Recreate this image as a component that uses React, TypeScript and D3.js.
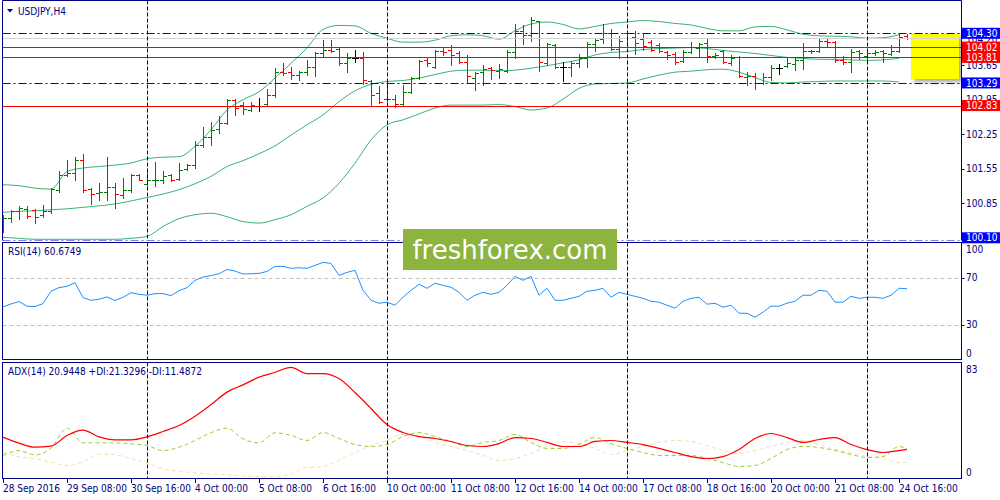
import React from "react";
import * as d3 from "d3";

// USDJPY H4 bars from 28 Sep 2016 00:00 — [open, high, low, close]
const bars: [number, number, number, number][] = [
  [100.37, 100.61, 100.25, 100.54], [100.54, 100.71, 100.47, 100.68], [100.68, 100.79, 100.52, 100.74],
  [100.72, 100.78, 100.54, 100.59], [100.71, 100.72, 100.44, 100.57], [100.61, 100.81, 100.57, 100.68],
  [100.68, 101.15, 100.64, 101.13], [101.12, 101.5, 101.08, 101.42], [101.42, 101.73, 101.39, 101.45],
  [101.45, 101.79, 101.32, 101.73], [101.73, 101.85, 101.08, 101.12], [101.13, 101.15, 100.82, 101.03],
  [101.06, 101.25, 100.91, 101.08], [101.08, 101.79, 100.9, 101.18], [101.18, 101.25, 100.74, 101.03],
  [101.01, 101.35, 100.95, 101.12], [101.12, 101.44, 101.08, 101.42], [101.42, 101.44, 101.31, 101.32],
  [101.24, 101.52, 101.22, 101.31], [101.31, 101.69, 101.2, 101.32], [101.32, 101.5, 101.25, 101.39],
  [101.42, 101.44, 101.29, 101.32], [101.33, 101.66, 101.31, 101.52], [101.54, 101.64, 101.52, 101.62],
  [101.62, 102.1, 101.56, 102.03], [102.03, 102.4, 101.98, 102.2], [102.2, 102.5, 102.03, 102.34],
  [102.35, 102.61, 102.27, 102.48], [102.48, 102.96, 102.46, 102.94], [102.94, 102.96, 102.64, 102.78],
  [102.84, 102.91, 102.65, 102.76], [102.74, 102.91, 102.71, 102.84], [102.83, 102.99, 102.71, 102.83],
  [102.86, 103.16, 102.84, 103.05], [103.05, 103.59, 103.01, 103.52], [103.52, 103.7, 103.45, 103.5],
  [103.52, 103.61, 103.37, 103.45], [103.45, 103.54, 103.34, 103.52], [103.52, 103.76, 103.45, 103.62],
  [103.62, 103.91, 103.44, 103.89], [103.89, 104.16, 103.83, 103.96], [103.96, 104.16, 103.91, 103.93],
  [103.98, 104.0, 103.66, 103.69], [103.7, 103.89, 103.52, 103.79], [103.79, 103.97, 103.72, 103.79],
  [103.79, 103.91, 103.27, 103.34], [103.32, 103.34, 102.83, 103.05], [103.08, 103.23, 102.88, 102.91],
  [102.97, 103.3, 102.93, 102.96], [102.97, 103.05, 102.8, 102.86], [102.86, 103.25, 102.83, 103.11],
  [103.11, 103.42, 103.09, 103.39], [103.39, 103.76, 103.37, 103.74], [103.76, 103.79, 103.64, 103.69],
  [103.62, 103.96, 103.59, 103.93], [103.93, 104.0, 103.85, 103.91], [103.96, 104.06, 103.66, 103.86],
  [103.89, 103.93, 103.69, 103.72], [103.71, 103.86, 103.3, 103.44], [103.39, 103.51, 103.15, 103.5],
  [103.52, 103.66, 103.25, 103.57], [103.59, 103.61, 103.37, 103.55], [103.53, 103.67, 103.4, 103.57],
  [103.53, 103.97, 103.51, 103.91], [103.91, 104.49, 103.79, 104.35], [104.35, 104.46, 104.08, 104.27],
  [104.27, 104.63, 104.15, 104.57], [104.54, 104.56, 103.54, 103.72], [103.69, 104.1, 103.66, 104.08],
  [104.07, 104.08, 103.59, 103.62], [103.62, 103.72, 103.32, 103.62], [103.62, 103.74, 103.44, 103.69],
  [103.7, 103.88, 103.61, 103.79], [103.79, 104.13, 103.62, 104.08], [104.08, 104.18, 103.93, 104.16],
  [104.18, 104.49, 104.1, 104.31], [104.31, 104.39, 103.97, 103.99], [103.99, 104.25, 103.79, 104.15],
  [104.31, 104.35, 104.02, 104.2], [104.22, 104.35, 103.87, 104.11], [104.18, 104.29, 103.97, 104.04],
  [104.13, 104.16, 103.93, 103.97], [104.06, 104.1, 103.91, 103.95], [103.91, 103.93, 103.77, 103.86],
  [103.88, 103.91, 103.67, 103.72], [103.74, 103.96, 103.71, 103.91], [103.91, 104.12, 103.89, 104.03],
  [104.01, 104.11, 103.81, 104.08], [104.1, 104.2, 103.72, 103.83], [103.83, 103.89, 103.79, 103.86],
  [103.93, 103.96, 103.7, 103.72], [103.7, 103.85, 103.65, 103.79], [103.81, 103.83, 103.42, 103.44],
  [103.42, 103.51, 103.25, 103.44], [103.43, 103.49, 103.16, 103.28], [103.28, 103.5, 103.27, 103.42],
  [103.42, 103.66, 103.34, 103.59], [103.59, 103.68, 103.47, 103.59], [103.64, 103.79, 103.61, 103.69],
  [103.68, 103.79, 103.55, 103.76], [103.76, 104.11, 103.58, 103.95], [103.93, 103.97, 103.89, 103.95],
  [103.95, 104.18, 103.91, 104.15], [104.15, 104.18, 104.03, 104.12], [104.12, 104.14, 103.72, 103.76],
  [103.76, 103.83, 103.68, 103.72], [103.72, 103.99, 103.51, 103.91], [103.95, 103.96, 103.78, 103.89],
  [103.84, 103.97, 103.76, 103.89], [103.89, 103.97, 103.86, 103.91], [103.93, 103.96, 103.71, 103.89],
  [103.88, 104.06, 103.86, 103.95], [103.93, 104.29, 103.91, 104.23], [104.25, 104.29, 104.18, 104.2],
];

// Bollinger bands, read every 2nd bar
const bbUpper = [
  101.22, 101.2, 101.15, 101.13, 101.49, 101.56, 101.59, 101.62, 101.66, 101.75,
  101.78, 101.79, 102.0, 102.34, 102.74, 102.95, 103.11, 103.39, 103.69, 104.0,
  104.38, 104.46, 104.45, 104.3, 104.2, 104.12, 104.12, 104.16, 104.25, 104.27,
  104.25, 104.18, 104.35, 104.49, 104.53, 104.48, 104.39, 104.44, 104.5, 104.53,
  104.56, 104.54, 104.5, 104.47, 104.4, 104.35, 104.35, 104.43, 104.44, 104.37,
  104.28, 104.25, 104.24, 104.23, 104.2, 104.21, 104.27,
];
const bbMiddle = [
  100.66, 100.68, 100.69, 100.71, 100.73, 100.76, 100.79, 100.83, 100.89, 100.96,
  101.03, 101.12, 101.24, 101.39, 101.59, 101.71, 101.85, 102.01, 102.23, 102.44,
  102.64, 102.91, 103.13, 103.26, 103.32, 103.34, 103.39, 103.46, 103.53, 103.55,
  103.55, 103.54, 103.55, 103.59, 103.64, 103.7, 103.76, 103.86, 103.91, 103.93,
  103.97, 103.99, 104.0, 104.01, 103.99, 103.95, 103.92, 103.89, 103.85, 103.81,
  103.79, 103.77, 103.77, 103.76, 103.75, 103.76, 103.79,
];
const bbLower = [
  100.15, 100.13, 100.11, 100.11, 100.11, 100.11, 100.11, 100.11, 100.13, 100.17,
  100.37, 100.53, 100.61, 100.64, 100.57, 100.47, 100.44, 100.51, 100.61, 100.78,
  100.95, 101.25, 101.66, 102.13, 102.44, 102.54, 102.66, 102.78, 102.84, 102.84,
  102.84, 102.85, 102.81, 102.74, 102.78, 102.96, 103.18, 103.27, 103.28, 103.29,
  103.37, 103.45, 103.51, 103.53, 103.56, 103.57, 103.51, 103.4, 103.3, 103.29,
  103.31, 103.32, 103.33, 103.33, 103.33, 103.33, 103.31,
];

// RSI(14), one value per bar
const rsi = [
  45.2, 47.7, 49.7, 45.8, 45.5, 48.0, 58.5, 61.6, 62.7, 65.8,
  53.1, 50.8, 51.7, 53.7, 50.6, 53.4, 57.3, 55.9, 55.1, 56.5,
  56.5, 54.8, 59.0, 61.6, 67.8, 70.6, 71.8, 73.4, 77.1, 75.7,
  73.2, 73.4, 73.7, 75.4, 79.7, 79.7, 78.0, 78.5,
  78.0, 80.5, 83.1, 82.2, 72.0, 74.6, 76.3, 59.3, 50.8, 48.3,
  49.2, 46.6, 53.4, 59.3, 64.4, 61.0, 65.3, 63.6, 61.9, 57.6,
  50.8, 55.1, 57.6, 55.9, 57.6, 63.6, 71.2, 67.8, 71.2, 55.1,
  61.0, 50.8, 50.8, 52.5, 54.2, 58.5, 59.3, 61.0, 53.4, 57.6,
  55.9, 54.2, 52.5, 50.0, 49.2, 46.6, 44.1, 50.0, 52.5, 53.4,
  47.5, 48.3, 44.9, 46.6, 39.8, 39.8, 36.4, 40.7, 45.8, 45.8,
  48.3, 50.0, 55.1, 55.1, 59.3, 58.5, 49.2, 49.2, 54.2, 52.5,
  53.4, 53.4, 52.5, 55.1, 61.0, 60.7,
];

// ADX(14), +DI, -DI read every 2nd bar, the last one on the final bar
const adx = [
  29.6, 25.3, 22.4, 23.1, 30.8, 34.6, 29.8, 27.7, 27.7, 29.8, 33.6, 37.9, 44.6, 52.9, 61.8, 67.0, 72.5, 76.0, 79.5,
  75.1, 75.1, 71.5, 61.5, 50.1, 38.6, 32.9, 30.0, 28.6, 26.5, 23.6,
  22.9, 25.0, 29.3, 28.6, 25.8, 22.9, 22.9, 26.5, 27.2, 25.8,
  24.3, 21.5, 18.6, 15.7, 14.3, 15.7, 20.7, 28.6, 32.2, 29.3,
  25.8, 27.9, 29.3, 24.3, 20.7, 18.6, 20.0, 20.9,
];
const plusDI = [
  16.5, 20.0, 16.9, 21.7, 36.0, 25.5, 25.5, 25.5, 24.8, 23.6, 20.0, 22.4, 27.2, 32.7, 36.0, 28.4, 25.5, 32.7, 30.8,
  27.2, 32.9, 28.6, 24.3, 22.9, 24.3, 30.0, 32.9, 30.0, 26.5, 22.9,
  25.8, 27.2, 31.5, 25.8, 21.5, 21.5, 24.3, 29.3, 25.0, 21.5,
  18.6, 16.5, 16.5, 16.5, 14.3, 11.4, 8.6, 9.3, 14.3, 20.7,
  22.9, 22.2, 20.0, 17.2, 15.0, 15.7, 22.9, 21.3,
];
const minusDI = [
  18.8, 15.5, 14.1, 11.7, 9.3, 11.7, 17.4, 17.0, 14.1, 11.2, 6.9, 5.2, 4.1, 3.3, 2.6, 1.9, 1.2, 1.0, 3.3,
  7.9, 8.6, 12.9, 18.6, 23.6, 27.2, 31.5, 30.0, 25.8, 22.9, 20.0,
  16.5, 12.9, 14.3, 17.9, 22.9, 26.5, 25.0, 21.5, 17.2, 20.0,
  22.9, 25.8, 27.2, 26.5, 23.6, 20.0, 17.9, 20.0, 22.9, 25.8,
  27.2, 24.3, 20.7, 18.6, 15.7, 14.3, 11.4, 11.5,
];

const timeLabels = [
  "28 Sep 2016", "29 Sep 08:00", "30 Sep 16:00", "4 Oct 00:00", "5 Oct 08:00",
  "6 Oct 16:00", "10 Oct 00:00", "11 Oct 08:00", "12 Oct 16:00", "14 Oct 00:00",
  "17 Oct 08:00", "18 Oct 16:00", "20 Oct 00:00", "21 Oct 08:00", "24 Oct 16:00",
];
const timeLabelStep = 8;
const weekStarts = [18, 48, 78, 108];

const dashDotLevels = [104.3, 103.29, 100.1];
const redLevels = [104.02, 103.81, 102.83];
const bidPrice = 104.2;
const priceTicks = [103.65, 102.95, 102.25, 101.55, 100.85];
const zone = { from: 113.5, to: 119.5, top: 104.3, bottom: 103.37 };
const rsiLevels = [70, 30];
const rsiTicks = [100, 70, 30, 0];
const adxTicks = [83, 0];

const W = 1000;
const H = 500;
const left = 2.5;
const right = 961.5;
const mainP = { top: 0.5, bottom: 240.5 };
const rsiP = { top: 242.5, bottom: 359.5 };
const adxP = { top: 362.5, bottom: 478.5 };

const NAVY = "#000080";
const FONT = "Tahoma, 'DejaVu Sans Condensed', 'Liberation Sans', sans-serif";
const N = bars.length;

const x = d3.scaleLinear().domain([0, N - 1]).range([3, 3 + 8 * (N - 1)]);
const y = d3.scaleLinear().domain([100.1, 104.3]).range([239.8, 33.3]);
const yR = d3.scaleLinear().domain([0, 100]).range([360, 242.5]);
const yA = d3.scaleLinear().domain([0, 83]).range([478.5, 362.5]);

const px = (v: number) => Math.round(v) + 0.5;

const bandLine = d3
  .line<number>()
  .x((_, k) => x(k * 2))
  .y((d) => y(d))
  .curve(d3.curveMonotoneX);
const adxLine = (sc: d3.ScaleLinear<number, number>) =>
  d3
    .line<number>()
    .x((_, k) => x(Math.min(k * 2, N - 1)))
    .y((d) => sc(d))
    .curve(d3.curveMonotoneX);
const rsiLine = d3
  .line<number>()
  .x((_, i) => x(i))
  .y((d) => yR(d));

const Label = ({ cy, text, bg }: { cy: number; text: string; bg?: string }) => (
  <g>
    {bg && <rect x={962} y={cy - 5.5} width={38} height={11} fill={bg} />}
    <text x={966} y={cy + 3.6} fill={bg ? "#ffffff" : NAVY} fontSize={10} fontFamily={FONT}>
      {text}
    </text>
  </g>
);

const clampLabel = (v: number, top: number, bottom: number) =>
  Math.max(top + 6.5, Math.min(bottom - 6.5, v));

export default function App() {
  const dashDot = "8,3,2,3";
  return (
    <svg
      width={W}
      height={H}
      style={{ position: "absolute", left: 0, top: 0, display: "block", background: "#fff" }}
    >
      <defs>
        <clipPath id="clipMain">
          <rect x={left} y={mainP.top} width={right - left} height={mainP.bottom - mainP.top} />
        </clipPath>
        <clipPath id="clipRsi">
          <rect x={left} y={rsiP.top} width={right - left} height={rsiP.bottom - rsiP.top} />
        </clipPath>
        <clipPath id="clipAdx">
          <rect x={left} y={adxP.top} width={right - left} height={adxP.bottom - adxP.top} />
        </clipPath>
        <filter id="shadow" x="-20%" y="-20%" width="150%" height="150%">
          <feDropShadow dx={3} dy={3} stdDeviation={2} floodColor="#808080" floodOpacity={0.7} />
        </filter>
      </defs>
      <rect x={0} y={0} width={W} height={H} fill="#fff" />

      {/* main panel */}
      <g clipPath="url(#clipMain)">
        <rect
          x={x(zone.from)}
          y={y(zone.top)}
          width={x(zone.to) - x(zone.from)}
          height={y(zone.bottom) - y(zone.top)}
          fill="#ffff00"
          filter="url(#shadow)"
        />
        {[bbUpper, bbMiddle, bbLower].map((b, k) => (
          <path key={k} d={bandLine(b) || ""} fill="none" stroke="#3cb371" strokeWidth={1} />
        ))}
        {bars.map(([o, h, l, c], i) => {
          const cx = px(x(i));
          const color = c > o ? "#008000" : c < o ? "#ff0000" : "#000000";
          const d = `M${cx},${Math.round(y(h))}V${Math.round(y(l)) + 1}M${cx - 3.5},${px(y(o))}H${cx}M${cx},${px(
            y(c)
          )}H${cx + 3.5}`;
          return <path key={i} d={d} stroke={color} strokeWidth={1} fill="none" />;
        })}
        <line x1={left} x2={right} y1={px(y(bidPrice))} y2={px(y(bidPrice))} stroke="#d3d3d3" />
        {redLevels.map((p) => (
          <line key={p} x1={left} x2={right} y1={px(y(p))} y2={px(y(p))} stroke="#ff0000" />
        ))}
        {dashDotLevels.map((p) => (
          <line
            key={p}
            x1={left}
            x2={right}
            y1={px(y(p))}
            y2={px(y(p))}
            stroke="#0000e0"
            strokeDasharray={dashDot}
          />
        ))}
      </g>

      {/* RSI panel */}
      <g clipPath="url(#clipRsi)">
        {rsiLevels.map((v) => (
          <line
            key={v}
            x1={left}
            x2={right}
            y1={px(yR(v))}
            y2={px(yR(v))}
            stroke="#c0c0c0"
            strokeDasharray="4,3"
          />
        ))}
        <path d={rsiLine(rsi) || ""} fill="none" stroke="#1e90ff" strokeWidth={1} />
      </g>

      {/* ADX panel */}
      <g clipPath="url(#clipAdx)">
        <path d={adxLine(yA)(minusDI) || ""} fill="none" stroke="#f5deb3" strokeDasharray="4,3" />
        <path d={adxLine(yA)(plusDI) || ""} fill="none" stroke="#9acd32" strokeDasharray="4,3" />
        <path d={adxLine(yA)(adx) || ""} fill="none" stroke="#ff0000" strokeWidth={1.2} />
      </g>

      {/* week separators */}
      {weekStarts.map((i) => (
        <g key={i} stroke={NAVY} strokeDasharray="4,2">
          <line x1={px(x(i))} x2={px(x(i))} y1={mainP.top} y2={mainP.bottom} />
          <line x1={px(x(i))} x2={px(x(i))} y1={rsiP.top} y2={rsiP.bottom} />
          <line x1={px(x(i))} x2={px(x(i))} y1={adxP.top} y2={adxP.bottom} />
        </g>
      ))}

      {/* frames: the main panel's bottom edge is the 100.10 level line */}
      <path
        d={`M${left},${mainP.bottom}V${mainP.top}H${right}V${mainP.bottom}`}
        fill="none"
        stroke={NAVY}
      />
      {[rsiP, adxP].map((p, k) => (
        <rect
          key={k}
          x={left}
          y={p.top}
          width={right - left}
          height={p.bottom - p.top}
          fill="none"
          stroke={NAVY}
        />
      ))}

      {/* titles */}
      <polygon points="7,9 13,9 10,12.5" fill={NAVY} />
      <text x={18} y={14.5} fontSize={10} fontFamily={FONT} fill={NAVY}>
        USDJPY,H4
      </text>
      <text x={8} y={255} fontSize={10} fontFamily={FONT} fill={NAVY}>
        RSI(14) 60.6749
      </text>
      <text x={8} y={375} fontSize={10} fontFamily={FONT} fill={NAVY}>
        ADX(14) 20.9448 +DI:21.3296 -DI:11.4872
      </text>

      {/* price axis */}
      {priceTicks.map((p) => (
        <g key={p}>
          <line x1={right} x2={964.5} y1={px(y(p))} y2={px(y(p))} stroke={NAVY} />
          <Label cy={y(p)} text={p.toFixed(2)} />
        </g>
      ))}
      <Label cy={y(bidPrice) + 1.5} text={bidPrice.toFixed(2)} />
      {redLevels.map((p) => (
        <Label key={p} cy={y(p)} text={p.toFixed(2)} bg="#ff0000" />
      ))}
      {dashDotLevels.map((p) => (
        <Label key={p} cy={p === 100.1 ? y(p) - 2 : y(p)} text={p.toFixed(2)} bg="#0000ff" />
      ))}

      {/* RSI axis */}
      {rsiTicks.map((v) => (
        <g key={v}>
          {v !== 100 && v !== 0 && (
            <line x1={right} x2={964.5} y1={px(yR(v))} y2={px(yR(v))} stroke={NAVY} />
          )}
          <Label cy={clampLabel(yR(v), rsiP.top, rsiP.bottom)} text={String(v)} />
        </g>
      ))}

      {/* ADX axis */}
      {adxTicks.map((v) => (
        <Label key={v} cy={clampLabel(yA(v), adxP.top, adxP.bottom)} text={String(v)} />
      ))}

      {/* time axis */}
      {timeLabels.map((t, k) => {
        const tx = px(x(k * timeLabelStep));
        return (
          <g key={t}>
            <line x1={tx} x2={tx} y1={adxP.bottom} y2={483} stroke={NAVY} />
            <text x={tx - 0.5} y={492} fontSize={10} fontFamily={FONT} fill={NAVY}>
              {t}
            </text>
          </g>
        );
      })}

      {/* watermark */}
      <rect x={403} y={229} width={214} height={41} fill="#8cb43e" />
      <text
        x={510}
        y={258.5}
        textAnchor="middle"
        fontSize={26}
        fontFamily="'DejaVu Sans', Verdana, sans-serif"
        fill="#ffffff"
      >
        freshforex.com
      </text>
    </svg>
  );
}
